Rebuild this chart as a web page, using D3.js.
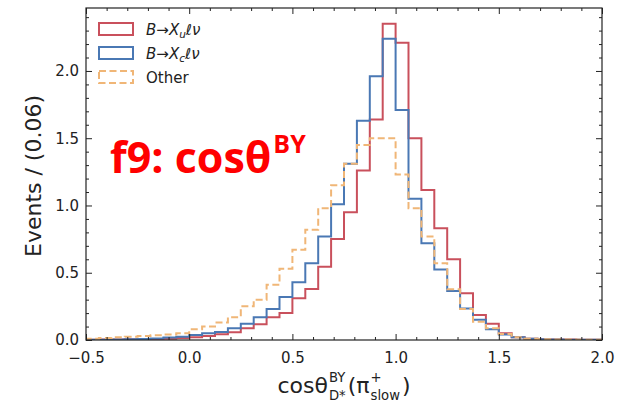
<!DOCTYPE html>
<html>
<head>
<meta charset="utf-8">
<script src="https://cdn.jsdelivr.net/npm/d3@7"></script>
<style>
  body { margin: 0; background: #fff; }
  text { font-family: "DejaVu Sans", sans-serif; }
</style>
</head>
<body>
<svg id="chart" width="623" height="403"></svg>
<script>
// Histogram binning: 40 bins over [-0.5, 2.0]
const binEdges = [-0.5, -0.4375, -0.375, -0.3125, -0.25, -0.1875, -0.125, -0.0625,
  0.0, 0.0625, 0.125, 0.1875, 0.25, 0.3125, 0.375, 0.4375,
  0.5, 0.5625, 0.625, 0.6875, 0.75, 0.8125, 0.875, 0.9375,
  1.0, 1.0625, 1.125, 1.1875, 1.25, 1.3125, 1.375, 1.4375,
  1.5, 1.5625, 1.625, 1.6875, 1.75, 1.8125, 1.875, 1.9375, 2.0];

// Normalised event counts per bin
const xuLnu = [0.002, 0.003, 0.004, 0.005, 0.007, 0.008, 0.010, 0.015, 0.020, 0.030,
  0.042, 0.057, 0.087, 0.117, 0.170, 0.200, 0.310, 0.380, 0.545, 0.750,
  0.950, 1.260, 1.640, 2.350, 2.210, 1.500, 1.115, 0.830, 0.600, 0.347,
  0.186, 0.120, 0.050, 0.020, 0.010, 0.006, 0.004, 0.003, 0.002, 0.001];
const xcLnu = [0.001, 0.002, 0.003, 0.005, 0.008, 0.012, 0.018, 0.025, 0.037, 0.050,
  0.060, 0.087, 0.120, 0.170, 0.230, 0.320, 0.430, 0.570, 0.770, 1.010,
  1.310, 1.630, 1.960, 2.240, 1.710, 1.050, 0.720, 0.525, 0.364, 0.235,
  0.150, 0.080, 0.040, 0.020, 0.010, 0.005, 0.003, 0.002, 0.001, 0.001];
const other = [0.010, 0.015, 0.020, 0.025, 0.030, 0.035, 0.040, 0.050, 0.080, 0.100,
  0.130, 0.170, 0.250, 0.300, 0.410, 0.530, 0.670, 0.820, 0.980, 1.150,
  1.310, 1.450, 1.500, 1.500, 1.230, 0.980, 0.770, 0.570, 0.377, 0.230,
  0.136, 0.087, 0.045, 0.020, 0.010, 0.006, 0.004, 0.003, 0.002, 0.001];

const xMajorTicks = [-0.5, 0.0, 0.5, 1.0, 1.5, 2.0];
const yMajorTicks = [0.0, 0.5, 1.0, 1.5, 2.0];
const xMinorTicks = [-0.4, -0.3, -0.2, -0.1, 0.1, 0.2, 0.3, 0.4, 0.6, 0.7, 0.8, 0.9,
  1.1, 1.2, 1.3, 1.4, 1.6, 1.7, 1.8, 1.9];
const yMinorTicks = [0.1, 0.2, 0.3, 0.4, 0.6, 0.7, 0.8, 0.9, 1.1, 1.2, 1.3, 1.4,
  1.6, 1.7, 1.8, 1.9, 2.1, 2.2, 2.3, 2.4];

const series = [
  { name: "xu", values: xuLnu, color: "#c9505c", dash: null },
  { name: "xc", values: xcLnu, color: "#4a78b4", dash: null },
  { name: "other", values: other, color: "#f0b677", dash: "7,3.5" }
];

const svg = d3.select("#chart");
const plot = { left: 86, right: 602, top: 8, bottom: 340 };

const x = d3.scaleLinear().domain([-0.5, 2.0]).range([plot.left, plot.right]);
const y = d3.scaleLinear().domain([0, 2.468]).range([plot.bottom, plot.top]);

svg.append("defs").append("clipPath").attr("id", "plotClip")
  .append("rect")
  .attr("x", plot.left).attr("y", plot.top)
  .attr("width", plot.right - plot.left).attr("height", plot.bottom - plot.top);

// Step histograms
const stepLine = d3.line()
  .x(d => x(d[0]))
  .y(d => y(d[1]))
  .curve(d3.curveStepAfter);

const histG = svg.append("g").attr("clip-path", "url(#plotClip)");
series.forEach(s => {
  const pts = [[binEdges[0], 0]];
  s.values.forEach((v, i) => pts.push([binEdges[i], v]));
  pts.push([binEdges[binEdges.length - 1], s.values[s.values.length - 1]]);
  pts.push([binEdges[binEdges.length - 1], 0]);
  histG.append("path")
    .attr("d", stepLine(pts))
    .attr("fill", "none")
    .attr("stroke", s.color)
    .attr("stroke-width", 2)
    .attr("stroke-dasharray", s.dash)
    .attr("stroke-linejoin", "miter");
});

// Axes with inward ticks on all sides
const fmt = d3.format(".1f");
function styleAxis(g) {
  g.select(".domain").remove();
  g.selectAll(".tick line").attr("stroke", "#222").attr("stroke-width", 1);
  g.selectAll(".tick text").attr("fill", "#222").style("font-size", "15px")
    .style("font-family", "'DejaVu Sans', sans-serif");
}
svg.append("g").attr("transform", `translate(0,${plot.bottom})`)
  .call(d3.axisBottom(x).tickValues(xMajorTicks).tickFormat(fmt).tickSizeInner(-6).tickSizeOuter(0).tickPadding(12))
  .call(styleAxis);
svg.append("g").attr("transform", `translate(0,${plot.bottom})`)
  .call(d3.axisBottom(x).tickValues(xMinorTicks).tickFormat("").tickSizeInner(-3).tickSizeOuter(0))
  .call(styleAxis);
svg.append("g").attr("transform", `translate(0,${plot.top})`)
  .call(d3.axisTop(x).tickValues(xMajorTicks).tickFormat("").tickSizeInner(-6).tickSizeOuter(0))
  .call(styleAxis);
svg.append("g").attr("transform", `translate(0,${plot.top})`)
  .call(d3.axisTop(x).tickValues(xMinorTicks).tickFormat("").tickSizeInner(-3).tickSizeOuter(0))
  .call(styleAxis);
svg.append("g").attr("transform", `translate(${plot.left},0)`)
  .call(d3.axisLeft(y).tickValues(yMajorTicks).tickFormat(fmt).tickSizeInner(-6).tickSizeOuter(0).tickPadding(7))
  .call(styleAxis);
svg.append("g").attr("transform", `translate(${plot.left},0)`)
  .call(d3.axisLeft(y).tickValues(yMinorTicks).tickFormat("").tickSizeInner(-3).tickSizeOuter(0))
  .call(styleAxis);
svg.append("g").attr("transform", `translate(${plot.right},0)`)
  .call(d3.axisRight(y).tickValues(yMajorTicks).tickFormat("").tickSizeInner(-6).tickSizeOuter(0))
  .call(styleAxis);
svg.append("g").attr("transform", `translate(${plot.right},0)`)
  .call(d3.axisRight(y).tickValues(yMinorTicks).tickFormat("").tickSizeInner(-3).tickSizeOuter(0))
  .call(styleAxis);

// Frame
svg.append("rect")
  .attr("x", plot.left).attr("y", plot.top)
  .attr("width", plot.right - plot.left).attr("height", plot.bottom - plot.top)
  .attr("fill", "none").attr("stroke", "#222").attr("stroke-width", 1.2);

// Y axis title
svg.append("text")
  .attr("transform", `translate(33,${(plot.top + plot.bottom) / 2 + 2}) rotate(-90)`)
  .attr("text-anchor", "middle")
  .attr("dominant-baseline", "central")
  .attr("fill", "#222")
  .style("font-size", "22px")
  .text("Events / (0.06)");

// Inline math-style label: runs of text with stacked super/subscripts
function mathLabel(g, pieces, size) {
  let cx = 0;
  const small = size * 0.6;
  pieces.forEach(p => {
    if (p.sup !== undefined || p.sub !== undefined) {
      let w = 0;
      if (p.sup) {
        const t = g.append("text").attr("x", cx + 1).attr("y", -size * 0.5)
          .style("font-size", small + "px").attr("fill", "#222").text(p.sup);
        w = Math.max(w, t.node().getComputedTextLength());
      }
      if (p.sub) {
        const t = g.append("text").attr("x", cx + 1).attr("y", size * 0.3)
          .style("font-size", small + "px").attr("fill", "#222").text(p.sub);
        w = Math.max(w, t.node().getComputedTextLength());
      }
      cx += w + 3;
    } else {
      const t = g.append("text").attr("x", cx).attr("y", 0)
        .style("font-size", size + "px").attr("fill", "#222").text(p.t);
      cx += t.node().getComputedTextLength();
    }
  });
  return cx;
}

const xTitle = svg.append("g");
const xTitleW = mathLabel(xTitle, [
  { t: "cosθ" }, { sup: "BY", sub: "D*" }, { t: "(π" }, { sup: "+", sub: "slow" }, { t: ")" }
], 22);
xTitle.attr("transform", `translate(${(plot.left + plot.right) / 2 - xTitleW / 2},393)`);

// Legend
const legendItems = [
  { s: series[0], label: "u" },
  { s: series[1], label: "c" },
  { s: series[2], label: null }
];
const legend = svg.append("g");
legendItems.forEach((it, i) => {
  const cy = 29 + i * 24;
  legend.append("rect")
    .attr("x", 99).attr("y", cy - 6).attr("width", 34).attr("height", 12)
    .attr("fill", "none").attr("stroke", it.s.color).attr("stroke-width", 2)
    .attr("stroke-dasharray", it.s.dash);
  const t = legend.append("text").attr("x", 146).attr("y", cy + 5.5)
    .attr("fill", "#222").style("font-size", "15px");
  if (it.label) {
    t.append("tspan").style("font-style", "italic").text("B");
    t.append("tspan").text("→");
    t.append("tspan").style("font-style", "italic").text("X");
    t.append("tspan").style("font-style", "italic").style("font-size", "10.5px")
      .attr("dy", 3).text(it.label);
    t.append("tspan").style("font-style", "italic").attr("dy", -3).text("ℓν");
  } else {
    t.text("Other");
  }
});

// Feature annotation
const ann = svg.append("text").attr("x", 110).attr("y", 173)
  .attr("fill", "#ff0000")
  .style("font-family", "'Open Sans', sans-serif")
  .style("font-weight", "bold")
  .style("font-size", "43px");
ann.append("tspan").text("f9: cosθ");
ann.append("tspan").style("font-size", "25px").attr("dy", -20).attr("dx", 2).text("BY");
</script>
</body>
</html>
